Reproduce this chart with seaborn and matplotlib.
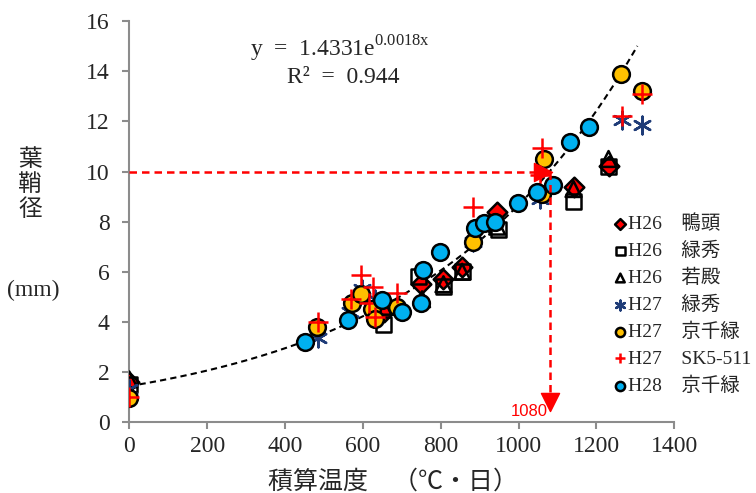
import numpy as np
import pandas as pd
import matplotlib
matplotlib.use("Agg")
import matplotlib.pyplot as plt
import seaborn as sns

# data (積算温度, 葉鞘径 mm)
h26_kamo_x = [0, 653, 748, 807, 855, 945, 1141, 1231]
h26_kamo_y = [1.6, 4.4, 5.5, 5.7, 6.2, 8.4, 9.4, 10.2]

h26_ryoku_x = [0, 653, 742, 807, 855, 948, 1141, 1231]
h26_ryoku_y = [1.5, 3.9, 5.8, 5.4, 6.0, 7.7, 8.8, 10.2]

h26_waka_x = [0, 653, 752, 807, 855, 945, 1141, 1231]
h26_waka_y = [1.7, 4.6, 4.9, 5.5, 6.0, 7.8, 9.3, 10.5]

h27_ryoku_x = [0, 486, 568, 598, 632, 884, 1056, 1266, 1318]
h27_ryoku_y = [1.3, 3.35, 4.4, 5.3, 4.9, 7.2, 8.9, 12.05, 11.85]

h27_kyo_x = [0, 483, 573, 594, 624, 632, 688, 884, 1061, 1064, 1264, 1318]
h27_kyo_y = [0.95, 3.8, 4.75, 5.1, 4.5, 4.1, 4.6, 7.2, 9.1, 10.5, 13.9, 13.2]

h27_sk_x = [0, 486, 570, 596, 617, 627, 632, 688, 884, 1056, 1061, 1266, 1318]
h27_sk_y = [1.0, 4.0, 4.9, 5.85, 4.75, 5.4, 4.2, 5.15, 8.6, 9.85, 10.95, 12.2, 13.1]

h28_kyo_x = [452, 562, 650, 701, 748, 755, 799, 889, 910, 940, 999, 1048, 1089, 1133, 1182]
h28_kyo_y = [3.2, 4.07, 4.87, 4.39, 4.75, 6.07, 6.78, 7.74, 7.94, 7.98, 8.74, 9.18, 9.46, 11.17, 11.77]

labels = ["H26　鴨頭", "H26　緑秀", "H26　若殿", "H27　緑秀",
          "H27　京千緑", "H27　SK5-511", "H28　京千緑"]

# fitted curve y = a*exp(b*x)
fit_a = 1.4331
fit_b = 0.0018
fit_r2 = 0.944
fit_xmax = 1305

target_y = 10
target_x = 1080

sns.set_style("ticks")
plt.rcParams['font.family'] = ['Liberation Serif', 'Noto Sans CJK JP', 'DejaVu Sans']
plt.rcParams['mathtext.fontset'] = 'custom'
plt.rcParams['mathtext.rm'] = 'Liberation Serif'

fig = plt.figure(figsize=(7.56, 4.93), dpi=100)
ax = fig.add_axes([0.171, 0.144, 0.721, 0.813])

gray = "#8c8c8c"

#series styles
series = [
    (h26_kamo_x, h26_kamo_y, "D", "#ff0000", "black", 100),
    (h26_ryoku_x, h26_ryoku_y, "s", "none", "black", 120),
    (h26_waka_x, h26_waka_y, "^", "none", "black", 130),
    (h27_ryoku_x, h27_ryoku_y, (6, 2, 0), "#1f3c78", "#1f3c78", 160),
    (h27_kyo_x, h27_kyo_y, "o", "#ffc000", "black", 145),
    (h27_sk_x, h27_sk_y, "+", "#ff0000", "#ff0000", 200),
    (h28_kyo_x, h28_kyo_y, "o", "#00b0f0", "black", 145),
]

handles = []
for i, (xs, ys, mk, fc, ec, s) in enumerate(series):
    df = pd.DataFrame({"x": xs, "y": ys})
    sns.scatterplot(data=df, x="x", y="y", ax=ax, marker=mk, s=s,
                    color=ec if fc == "none" else fc, edgecolor=ec,
                    linewidth=1.8, zorder=3 + i, label=labels[i])
    coll = ax.collections[-1]
    if fc == "none":
        coll.set_facecolor("none")
        coll.set_edgecolor(ec)
    handles.append(coll)

# trend line
xx = np.linspace(0, fit_xmax, 200)
ax.plot(xx, fit_a * np.exp(fit_b * xx), ls=(0, (3, 2)), color="black", lw=1.5, zorder=2)

# red dashed arrows
ax.plot([0, target_x - 25], [target_y, target_y], ls=(0, (3, 2)), color="#ff0000", lw=1.8, zorder=20)
ax.scatter([target_x - 18], [target_y], marker=">", s=170, color="#ff0000", zorder=20)
ax.plot([target_x, target_x], [target_y, 1.0], ls=(0, (3, 2)), color="#ff0000", lw=1.8, zorder=20)
ax.scatter([target_x], [0.8], marker="v", s=170, color="#ff0000", zorder=20)
ax.text(target_x - 4, 0.4, str(target_x), color="#ff0000", fontsize=12,
        family=["Liberation Sans"], ha="right", va="center", zorder=21)

ax.text(311, 14.9, r"y  =  1.4331e$^{\mathrm{0.0018x}}$", fontsize=17, ha="left", va="center")
ax.text(550, 13.75, "R²  =  " + str(fit_r2), fontsize=17, ha="center", va="center")

ax.set_xlim(0, 1400)
ax.set_ylim(0, 16)
ax.set_xticks(range(0, 1401, 200))
ax.set_yticks(range(0, 17, 2))
ax.tick_params(axis="both", labelsize=17, color=gray, length=5, width=1.5, direction="out")
ax.tick_params(axis="y", pad=9)
ax.tick_params(axis="x", pad=5)
for side in ["left", "bottom"]:
    ax.spines[side].set_color(gray)
    ax.spines[side].set_linewidth(1.5)
sns.despine(ax=ax)
ax.set_xlabel("")
ax.set_ylabel("")

fig.text(0.52, 0.022, "積算温度　（℃・日）", fontsize=18, ha="center", va="center")
fig.text(0.04, 0.625, "葉\n鞘\n径", fontsize=17, ha="center", va="center", linespacing=1.2)
fig.text(0.044, 0.41, "(mm)", fontsize=17, ha="center", va="center")

ax.legend(handles=handles, labels=labels, loc="upper left",
          bbox_to_anchor=(0.80, 0.585), bbox_transform=fig.transFigure,
          frameon=False, fontsize=14, markerscale=0.55, handlelength=0.6,
          handletextpad=0.1, labelspacing=0.45, borderpad=0)

fig.savefig("out.png", dpi=100)
